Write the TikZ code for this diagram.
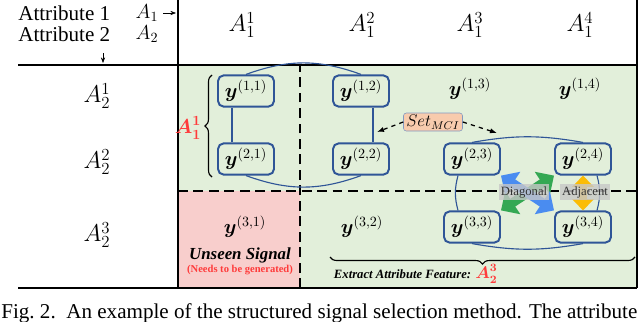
\documentclass[tikz,border=0pt]{standalone}
\usepackage{amsmath}
\usepackage{fontspec}
\setmainfont{Liberation Serif}
\usetikzlibrary{arrows.meta,positioning,decorations.pathreplacing}

\definecolor{cellgreen}{HTML}{E2EFDA}
\definecolor{cellpink}{HTML}{F8CECC}
\definecolor{boxblue}{HTML}{2F5597}
\definecolor{setfill}{HTML}{F8CBAD}
\definecolor{arrblue}{HTML}{4A8CF0}
\definecolor{arrgreen}{HTML}{34A853}
\definecolor{arrorange}{HTML}{FBBC05}
\definecolor{redlab}{HTML}{FF3B3B}

\begin{document}
\begin{tikzpicture}[
  x=0.25mm, y=0.25mm,
  font=\fontsize{14}{16}\selectfont,
  sig/.style={draw=boxblue, line width=1.4pt, rounded corners=4pt, minimum width=14mm,
              minimum height=7.8mm, inner sep=1pt},
  ring/.style={draw=boxblue, line width=0.8pt},
  hdr/.style={font=\fontsize{18}{20}\selectfont},
  rule/.style={line width=1pt},
  cut/.style={line width=1pt, dash pattern=on 7pt off 4pt},
  mci/.style={draw=boxblue!60, fill=setfill, rounded corners=2pt, minimum width=14.75mm,
              minimum height=4.5mm, inner sep=1pt, font=\fontsize{12}{14}\selectfont},
  pick/.style={dashed, line width=0.9pt, -{Latex[length=5pt]}},
  fat/.style={line width=6.5pt, {Triangle[length=10pt,width=19pt]}-{Triangle[length=10pt,width=19pt]}},
  tag/.style={fill=black!22, fill opacity=0.8, text opacity=1, text=black!80, inner sep=1.5pt,
              font=\fontsize{9}{10}\selectfont}
]
\useasboundingbox (0,0) rectangle (640,321);

% cells
\fill[cellgreen] (178,33) rectangle (637,256);
\fill[cellpink] (178,33) rectangle (300,130);
\draw[cut] (178,130) -- (637,130);
\draw[cut] (300,33) -- (300,256);
\draw[rule] (18,256) -- (637,256);
\draw[rule] (18,33) -- (637,33);
\draw[rule] (178,321) -- (178,33);
\draw[rule] (637,321) -- (637,33);

% corner labels
\node[anchor=west, inner sep=0pt, font=\fontsize{15}{17}\selectfont] (att1) at (18,308) {Attribute 1};
\node (a1) at (147,308) {$A_1$};
\node[anchor=west, inner sep=0pt, font=\fontsize{15}{17}\selectfont] (att2) at (18,287) {Attribute 2};
\node (a2) at (147,287) {$A_2$};
\coordinate (e1) at (176,308);
\coordinate (d0) at (103,268);
\coordinate (d1) at (103,258);
\draw[-{Stealth[length=4pt]}] (a1.east) -- (e1);
\draw[-{Stealth[length=4pt]}] (d0) -- (d1);

% headers
\foreach \c/\x in {1/242,2/362,3/470,4/580}
  \node[hdr] (col\c) at (\x,296) {$A_1^{\c}$};
\foreach \r/\y in {1/225,2/159,3/86}
  \node[hdr] (row\r) at (97,\y) {$A_2^{\r}$};

% signals
\node[sig] (y11) at (246,230) {$\boldsymbol{y}^{(1,1)}$};
\node[sig] (y21) at (246,162) {$\boldsymbol{y}^{(2,1)}$};
\node[sig] (y12) at (361,230) {$\boldsymbol{y}^{(1,2)}$};
\node[sig] (y22) at (361,162) {$\boldsymbol{y}^{(2,2)}$};
\node[sig] (y23) at (472,162) {$\boldsymbol{y}^{(2,3)}$};
\node[sig] (y24) at (583,162) {$\boldsymbol{y}^{(2,4)}$};
\node[sig] (y33) at (472,94) {$\boldsymbol{y}^{(3,3)}$};
\node[sig] (y34) at (583,94) {$\boldsymbol{y}^{(3,4)}$};
\node (y13) at (470,232) {$\boldsymbol{y}^{(1,3)}$};
\node (y14) at (580,232) {$\boldsymbol{y}^{(1,4)}$};
\node (y32) at (362,94) {$\boldsymbol{y}^{(3,2)}$};
\node (y31) at (245,94) {$\boldsymbol{y}^{(3,1)}$};
\node[font=\bfseries\itshape\fontsize{12}{14}\selectfont] (unseen) at (240,66) {Unseen Signal};
\node[text=redlab, font=\bfseries\fontsize{7.5}{9}\selectfont] (gen) at (240,51) {(Needs to be generated)};

% rings
\draw[ring] (y11.north) to[bend left=20] (y12.north);
\draw[ring] (y21.south) to[bend right=20] (y22.south);
\draw[ring] ([xshift=-3.5mm]y11.south) -- ([xshift=-3.5mm]y21.north);
\draw[ring] ([xshift=3mm]y12.south) -- ([xshift=3mm]y22.north);
\draw[ring] (y23.north) to[bend left=10] (y24.north);
\draw[ring] (y33.south) to[bend right=10] (y34.south);
\draw[ring] ([xshift=-3.5mm]y23.south) to[bend right=15] ([xshift=-3.5mm]y33.north);
\draw[ring] ([xshift=3.5mm]y24.south) to[bend left=15] ([xshift=3.5mm]y34.north);

% braces
\draw[decorate, decoration={brace, amplitude=5pt}, line width=0.8pt] (212,144) -- (212,246);
\node[text=redlab, inner sep=0.5pt] (bl) at (188,193) {$\boldsymbol{A_1^1}$};
\draw[decorate, decoration={brace, amplitude=5pt}, line width=0.8pt] (635,64) -- (330,64);
\node[anchor=west, inner sep=0.5pt, font=\bfseries\itshape\fontsize{9}{11}\selectfont] (extract) at (333,47)
  {Extract Attribute Feature: \textcolor{redlab}{\fontsize{12}{13}\selectfont$\boldsymbol{A_2^3}$}};

% set
\node[mci] (set) at (433,199) {$Set_{MCI}$};
\coordinate (p1) at (377,189);
\coordinate (p2) at (497,188);
\draw[pick] (set.west) -- (p1);
\draw[pick] (set.east) -- (p2);

% directions
\draw[fat, arrgreen] (y24.south west) -- (y33.north east);
\draw[fat, arrblue] (y23.south east) -- (y34.north west);
\draw[arrorange, line width=5pt, {Triangle[length=8pt,width=15pt]}-{Triangle[length=8pt,width=15pt]}]
  (y24.south) -- (y34.north);
\node[tag] (diag) at (524,129) {Diagonal};
\node[tag] (adj) at (585,129) {Adjacent};

% caption
\node[anchor=base west, inner sep=0pt, font=\fontsize{15}{17}\selectfont] (cap) at (1,3)
  {Fig.~2.\ \ An example of the structured signal selection method. The attribute};
\end{tikzpicture}
\end{document}
